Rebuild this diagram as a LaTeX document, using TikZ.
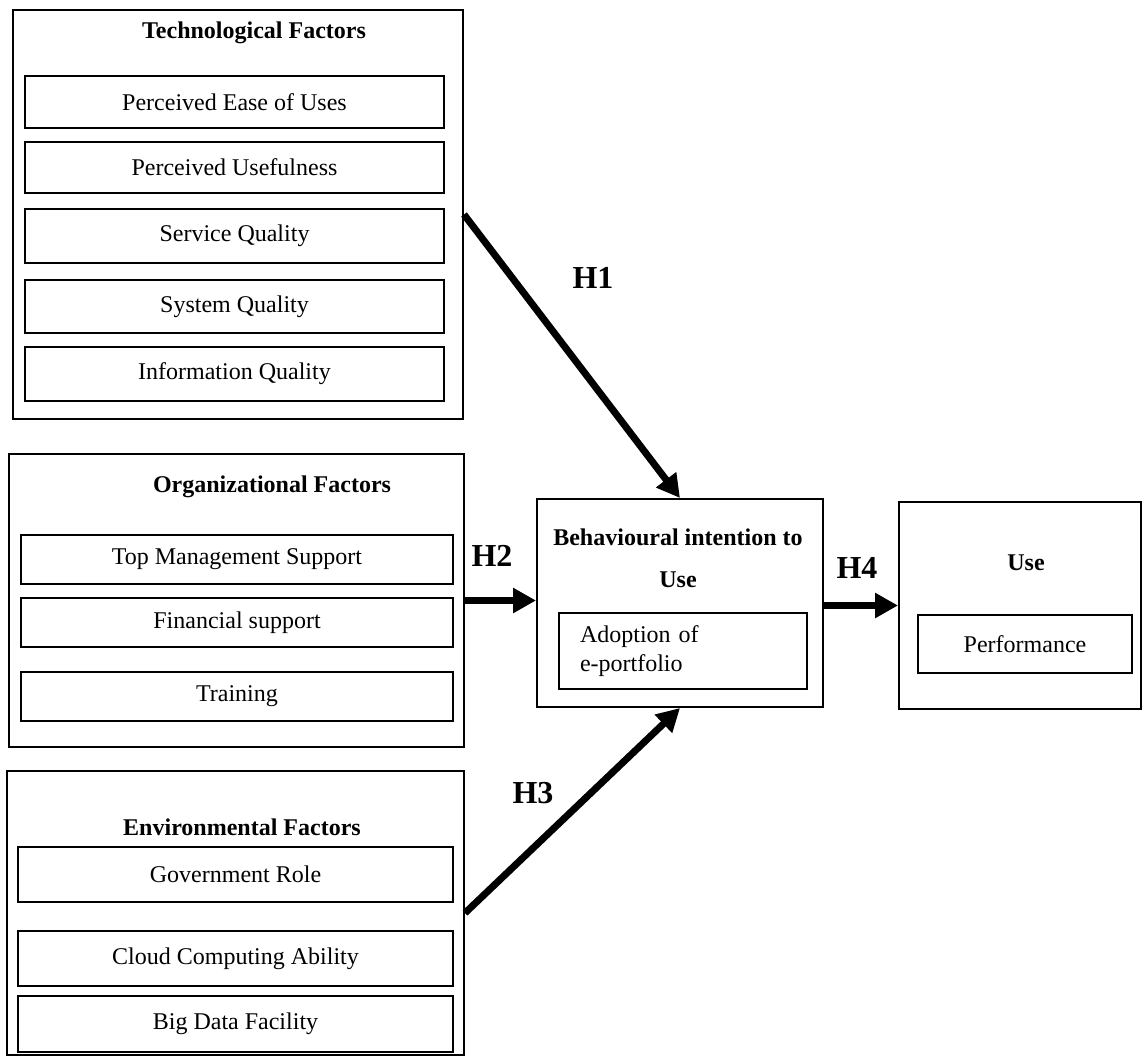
\documentclass[tikz,border=0pt]{standalone}
\usepackage{fontspec}
\setmainfont{Liberation Serif}
\usetikzlibrary{arrows.meta}

\begin{document}
\begin{tikzpicture}[x=0.5pt,y=-0.5pt,
	outerbox/.style={draw,line width=1pt,inner sep=0pt},
	itembox/.style={draw,line width=1pt,inner sep=0pt,font=\fontsize{12}{14.5}\selectfont},
	boxtitle/.style={font=\fontsize{12}{14.5}\selectfont\bfseries},
	hyplabel/.style={font=\fontsize{16}{19}\selectfont\bfseries},
	hyparrow/.style={line width=3.5pt,-{Triangle[length=11.5pt,width=12pt]}}]
	\useasboundingbox (0,0) rectangle (1142,1057);
	% technological factors
	\node[outerbox,minimum width=225pt,minimum height=204.5pt] (tech) at (238,214.5) {};
	\node[boxtitle] (techtitle) at (254,33) {Technological Factors};
	\node[itembox,minimum width=209.5pt,minimum height=26pt] (peu) at (234.5,102) {Perceived Ease of Uses};
	\node[itembox,minimum width=209.5pt,minimum height=25.5pt] (pu) at (234.5,167.5) {Perceived Usefulness};
	\node[itembox,minimum width=209.5pt,minimum height=27pt] (servq) at (234.5,236) {Service Quality};
	\node[itembox,minimum width=209.5pt,minimum height=26.5pt] (sysq) at (234.5,306.5) {System Quality};
	\node[itembox,minimum width=209.5pt,minimum height=27pt] (infoq) at (234.5,374) {Information Quality};
	% organizational factors
	\node[outerbox,minimum width=227.5pt,minimum height=146.5pt] (org) at (236.5,600.5) {};
	\node[boxtitle] (orgtitle) at (272,487) {Organizational Factors};
	\node[itembox,minimum width=216pt,minimum height=24.5pt] (topmgmt) at (237,559.5) {Top Management Support};
	\node[itembox,minimum width=216pt,minimum height=24.5pt] (finsup) at (237,622.5) {Financial support};
	\node[itembox,minimum width=216pt,minimum height=24.5pt] (training) at (237,696.5) {Training};
	% environmental factors
	\node[outerbox,minimum width=228.5pt,minimum height=142pt] (env) at (235.5,913) {};
	\node[boxtitle] (envtitle) at (242,827) {Environmental Factors};
	\node[itembox,minimum width=217.5pt,minimum height=27.5pt] (govrole) at (235.5,874.5) {Government Role};
	\node[itembox,minimum width=217.5pt,minimum height=27.5pt] (cloud) at (235.5,958.5) {Cloud Computing Ability};
	\node[itembox,minimum width=217.5pt,minimum height=28pt] (bigdata) at (235.5,1024) {Big Data Facility};
	% behavioural intention and use
	\node[outerbox,minimum width=143pt,minimum height=104pt] (behav) at (680,603) {};
	\node[boxtitle,font=\fontsize{12}{21}\selectfont\bfseries,align=center] (behavtitle) at (678,558) {Behavioural intention to\\Use};
	\node[itembox,minimum height=38pt,text width=103pt,inner xsep=10.5pt,align=left] (adopt) at (683,651) {Adoption of\\e-portfolio};
	\node[outerbox,minimum width=121pt,minimum height=103.5pt] (usebox) at (1020,605.5) {};
	\node[boxtitle] (usetitle) at (1026,563) {Use};
	\node[itembox,minimum width=107pt,minimum height=29pt] (perf) at (1025,644) {Performance};
	% hypotheses
	\draw[hyparrow] (tech.east) -- (behav.north);
	\draw[hyparrow] (org.east) -- (org.east -| behav.west);
	\draw[hyparrow] (env.east) -- (behav.south);
	\draw[hyparrow] (behav.east |- usebox.west) -- (usebox.west);
	\node[hyplabel] (hone) at (593,278) {H1};
	\node[hyplabel] (htwo) at (492,556) {H2};
	\node[hyplabel] (hthree) at (533,793) {H3};
	\node[hyplabel] (hfour) at (857,568) {H4};
\end{tikzpicture}
\end{document}
